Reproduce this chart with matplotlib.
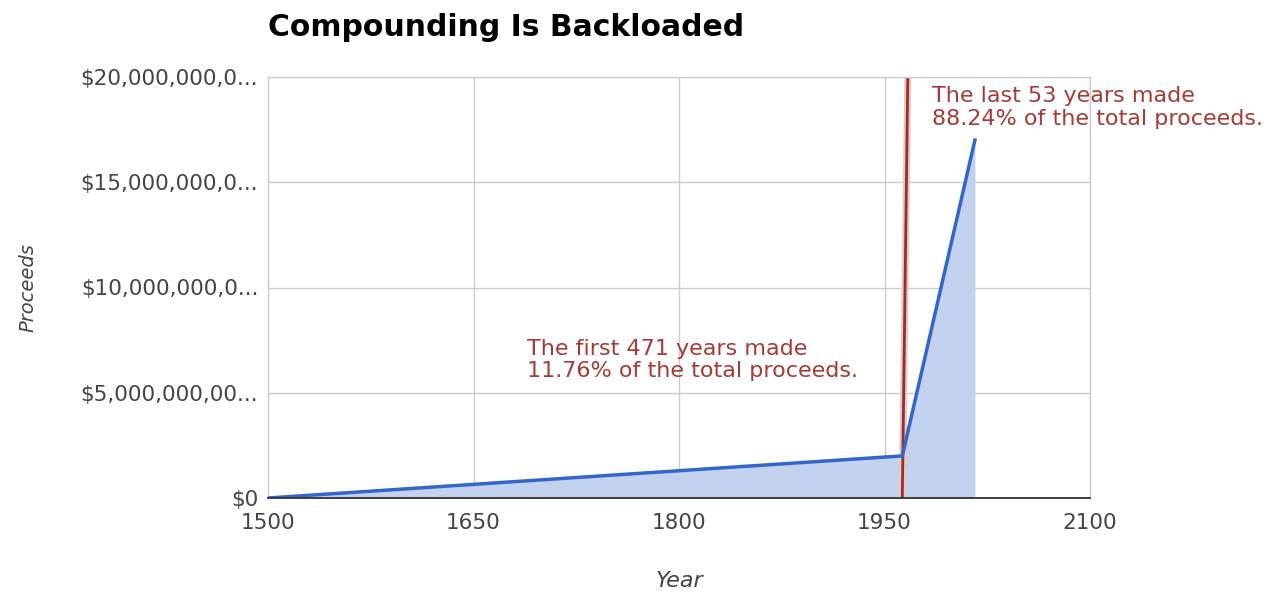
import matplotlib
matplotlib.use("Agg")
import matplotlib.pyplot as plt

plt.rcParams['font.family'] = ['DejaVu Sans']

# Proceeds over time
years = [1500, 1963, 2016]
proceeds = [0, 2.0e9, 17.0e9]

# Divider marking the split between the two periods
divider_years = [1963, 1967]
divider_values = [0, 20.0e9]

x_ticks = [1500, 1650, 1800, 1950, 2100]
y_ticks = [0, 5e9, 10e9, 15e9, 20e9]
y_tick_labels = ["$0", "$5,000,000,00...", "$10,000,000,0...",
                 "$15,000,000,0...", "$20,000,000,0..."]

title = "Compounding Is Backloaded"
note_last = "The last 53 years made\n88.24% of the total proceeds."
note_first = "The first 471 years made\n11.76% of the total proceeds."

fig = plt.figure(figsize=(12.8, 5.92), dpi=100)
ax = fig.add_axes([268/1280, 1 - 498/592, (1090-268)/1280, (498-77)/592])

line_color = "#3366cc"
ax.fill_between(years, proceeds, 0, color="#c3d3ef", linewidth=0, zorder=1)
ax.plot(years, proceeds, color=line_color, linewidth=2.5, zorder=3,
        solid_joinstyle="miter")
ax.plot(divider_years, divider_values, color="#f0c4be", linewidth=5, zorder=2,
        solid_capstyle="butt")
ax.plot(divider_years, divider_values, color="#8c3434", linewidth=2.0, zorder=2.5,
        solid_capstyle="butt")

ax.set_xlim(x_ticks[0], x_ticks[-1])
ax.set_ylim(y_ticks[0], y_ticks[-1])
ax.set_xticks(x_ticks)
ax.set_yticks(y_ticks)
ax.set_yticklabels(y_tick_labels)
ax.grid(True, color="#cccccc", linewidth=1.0)
ax.set_axisbelow(True)

for side in ("top", "right", "left"):
    ax.spines[side].set_color("#cccccc")
    ax.spines[side].set_linewidth(1.0)
ax.spines["bottom"].set_color("#333333")
ax.spines["bottom"].set_linewidth(1.3)
ax.spines["bottom"].set_zorder(4)

ax.tick_params(axis="both", length=0, labelsize=15.5, colors="#444444")
ax.tick_params(axis="y", pad=7)
ax.tick_params(axis="x", pad=11)

ax.set_xlabel("Year", fontsize=16, style="italic", color="#444444")
ax.xaxis.set_label_coords(0.501, -0.197)
ax.xaxis.label.set_va("center")
ax.set_ylabel("Proceeds", fontsize=14, style="italic", color="#444444")
ax.yaxis.set_label_coords(-0.292, 0.5)
ax.yaxis.label.set_va("center")

fig.text(268/1280, 1 - 28/592, title, fontsize=21.5, fontweight="bold",
         color="#000000", ha="left", va="center")

ax.text(1984.7, 19.55e9, note_last, fontsize=16, color="#a83a36",
        ha="left", va="top", linespacing=1.15, zorder=5)
ax.text(1689, 7.55e9, note_first, fontsize=16, color="#a83a36",
        ha="left", va="top", linespacing=1.15, zorder=5)

fig.savefig("out.png", dpi=100, facecolor="white")
